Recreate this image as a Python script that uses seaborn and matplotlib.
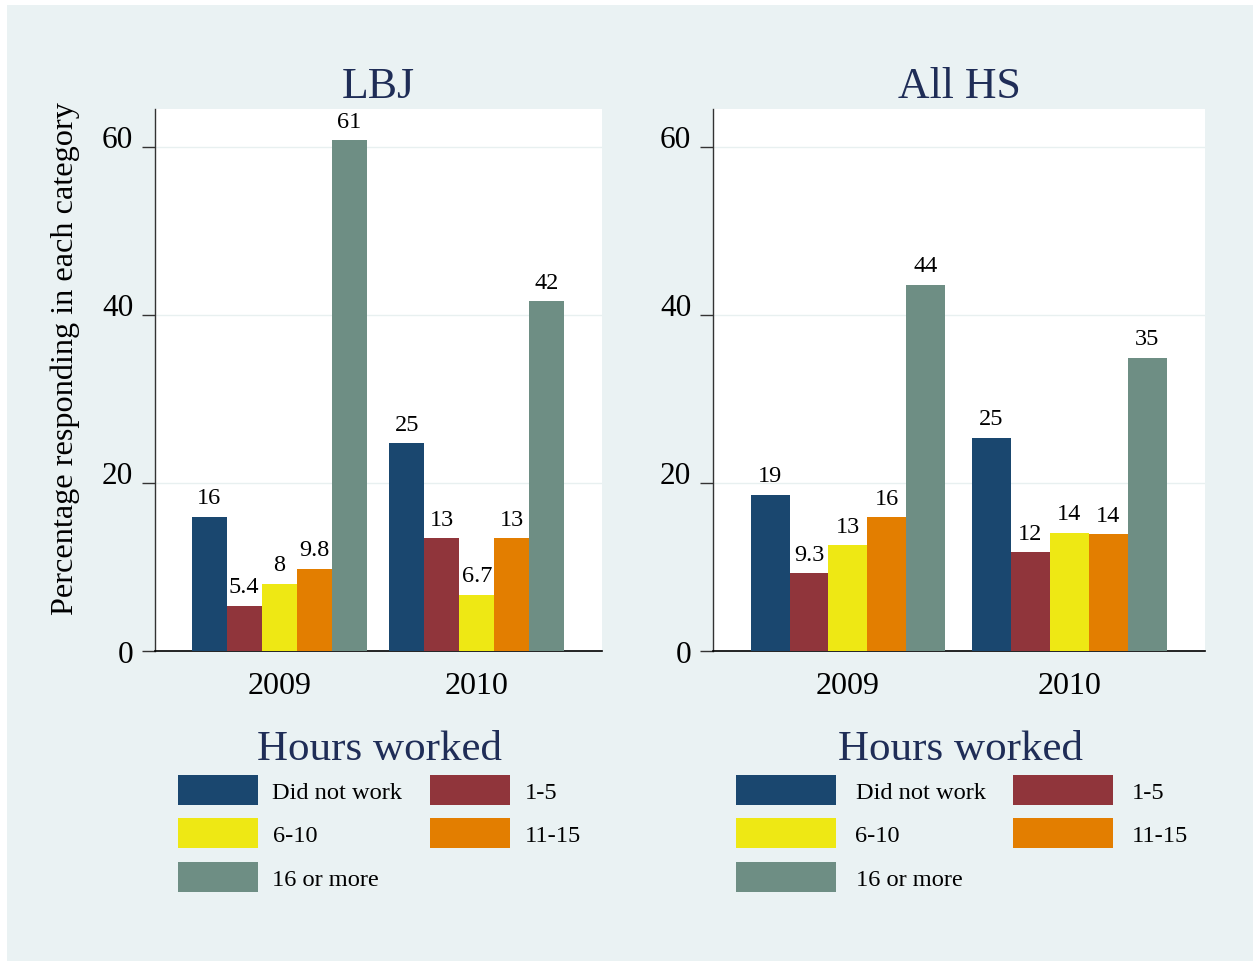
import matplotlib
matplotlib.use("Agg")
import matplotlib.pyplot as plt
import matplotlib.transforms as mtransforms
from matplotlib.patches import Rectangle, Patch
import seaborn as sns
import pandas as pd

# ---------------- data ----------------
years = ["2009", "2010"]
hours = ["Did not work", "1-5", "6-10", "11-15", "16 or more"]
lbj_2009 = [16.0, 5.4, 8.0, 9.8, 60.8]
lbj_2010 = [24.7, 13.4, 6.7, 13.4, 41.6]
allhs_2009 = [18.6, 9.3, 12.6, 15.9, 43.6]
allhs_2010 = [25.4, 11.8, 14.1, 13.9, 34.9]
panel_titles = ["LBJ", "All HS"]
y_ticks = [0, 20, 40, 60]
y_label = "Percentage responding in each category"
legend_title = "Hours worked"
colors = ["#1A476F", "#90353B", "#EEE814", "#E37E00", "#6E8E84"]

W, H = 1253, 962
BG = "#EAF2F3"
NAVY = "#1F2D57"

sns.set_theme(style="white")
plt.rcParams["font.family"] = ["Liberation Serif", "DejaVu Serif"]
plt.rcParams["text.color"] = "black"
plt.rcParams["axes.labelcolor"] = "black"
plt.rcParams["xtick.color"] = "black"
plt.rcParams["ytick.color"] = "black"

fig = plt.figure(figsize=(W / 100, H / 100), dpi=100)
fig.patch.set_facecolor("white")
fig.add_artist(Rectangle((7 / W, 0), 1 - 7 / W, (H - 6) / H,
                         transform=fig.transFigure, facecolor=BG,
                         edgecolor="none", zorder=-10))


def frame(d2009, d2010):
    rows = []
    for yr, vals in zip(years, [d2009, d2010]):
        for h, v in zip(hours, vals):
            rows.append({"year": yr, "hours": h, "pct": v})
    return pd.DataFrame(rows)


def px_axes(x0, x1, ytop, ybot):
    return [x0 / W, (H - ybot) / H, (x1 - x0) / W, (ybot - ytop) / H]


panels = [
    dict(data=frame(lbj_2009, lbj_2010), rect=px_axes(155, 602, 110, 652),
         xlim=(-0.6285, 1.6336), width=0.8856, title=panel_titles[0],
         hl=80, ht_pad=15, legx=177.5, colsp=27),
    dict(data=frame(allhs_2009, allhs_2010), rect=px_axes(713, 1205, 110, 652),
         xlim=(-0.610, 1.614), width=0.880, title=panel_titles[1],
         hl=100, ht_pad=19.5, legx=736, colsp=27),
]

YMAX = 64.5
LEG_FS = 17.6
fs_px = LEG_FS * 100 / 72
PATCH_H = 30.0
hh = (PATCH_H / fs_px - 0.245) / 0.65

for i, p in enumerate(panels):
    ax = fig.add_axes(p["rect"])
    ax.set_facecolor("white")
    sns.barplot(data=p["data"], x="year", y="pct", hue="hours",
                hue_order=hours, order=years, palette=colors,
                saturation=1, width=p["width"], ax=ax, legend=False,
                linewidth=0, errorbar=None, zorder=3)
    ax.set_xlim(*p["xlim"])
    ax.set_ylim(0, YMAX)
    for cont in ax.containers:
        vals = [r.get_height() for r in cont]
        ax.bar_label(cont, labels=[f"{v:.2g}" for v in vals], padding=6,
                     fontsize=17.5, color="black")
    # axes styling
    for s in ["top", "right"]:
        ax.spines[s].set_visible(False)
    ax.spines["left"].set_color("#333333")
    ax.spines["left"].set_linewidth(1.0)
    ax.spines["bottom"].set_color("black")
    ax.spines["bottom"].set_linewidth(1.2)
    ax.set_yticks(y_ticks)
    ax.set_yticklabels([str(t) for t in y_ticks])
    ax.yaxis.grid(True, color="#E8F0F0", linewidth=1.0, zorder=0)
    ax.set_axisbelow(True)
    ax.tick_params(axis="y", direction="out", length=9.2, width=1.0,
                   color="#333333", labelcolor="black", pad=6.5,
                   labelsize=22.5, left=True)
    ax.tick_params(axis="x", length=0, pad=14.5, labelsize=23,
                   labelcolor="black")
    for lbl in ax.get_yticklabels():
        if lbl.get_text() != "0":
            lbl.set_transform(lbl.get_transform() +
                              mtransforms.ScaledTranslation(0, 11 / 100, fig.dpi_scale_trans))
    ax.set_xlabel("")
    if i == 0:
        ax.set_ylabel(y_label, fontsize=23.2, color="black")
        ax.yaxis.set_label_coords(-0.168, 0.542)
    else:
        ax.set_ylabel("")
    ax.set_title(p["title"], fontsize=31.5, color=NAVY, pad=9.0)

    # legend
    handles = [Patch(facecolor=c, edgecolor="none") for c in colors]
    order = [0, 2, 4, 1, 3]
    leg = fig.legend([handles[k] for k in order], [hours[k] for k in order],
                     ncol=2, loc="upper left",
                     bbox_to_anchor=(p["legx"] / W, (H - 775.7) / H),
                     bbox_transform=fig.transFigure,
                     frameon=False, fontsize=LEG_FS, borderpad=0,
                     handlelength=p["hl"] / fs_px, handleheight=hh,
                     handletextpad=p["ht_pad"] / fs_px,
                     columnspacing=p["colsp"] / fs_px,
                     labelspacing=13.5 / fs_px, borderaxespad=0,
                     labelcolor="black")
    tx = 380 if i == 0 else 961
    fig.text(tx / W, (H - 750) / H, legend_title, fontsize=31,
             color=NAVY, ha="center", va="center")

fig.savefig("out.png", dpi=100, facecolor=fig.get_facecolor())
